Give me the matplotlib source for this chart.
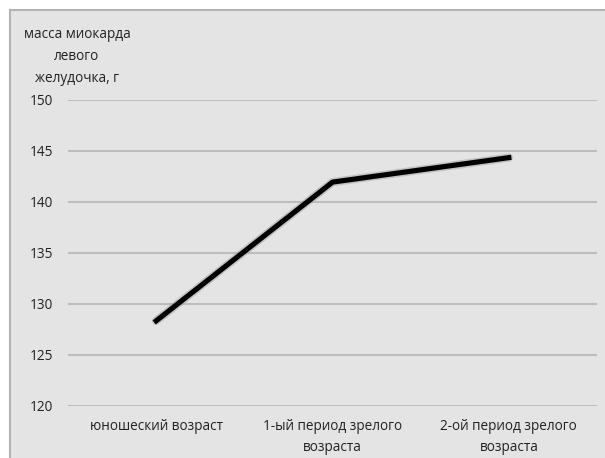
import matplotlib.pyplot as plt
from matplotlib.patches import Rectangle
from matplotlib.lines import Line2D

categories = ["юношеский возраст", "1-ый период зрелого\nвозраста", "2-ой период зрелого\nвозраста"]
mass = [128.3, 141.9, 144.3]
yticks = [120, 125, 130, 135, 140, 145, 150]
ylabel_lines = ["масса миокарда", "левого", "желудочка, г"]

plt.rcParams['font.family'] = ['Open Sans', 'DejaVu Sans']

W, H = 605, 458
fig = plt.figure(figsize=(W / 100, H / 100), dpi=100)
fig.patch.set_facecolor("white")

# grey chart area with a border on the left and top
fig.patches.append(Rectangle((10 / W, 0), 1, (H - 10) / H, transform=fig.transFigure,
                             facecolor="#e4e4e4", edgecolor="none", zorder=-5))
fig.lines.append(Line2D([10 / W, 10 / W], [0, (H - 10) / H], transform=fig.transFigure,
                        color="#b4b4b4", lw=1.5, zorder=-4))
fig.lines.append(Line2D([10 / W, 1], [(H - 10) / H, (H - 10) / H], transform=fig.transFigure,
                        color="#b4b4b4", lw=1.5, zorder=-4))

ax = fig.add_axes([68 / W, (H - 405.5) / H, (597 - 68) / W, (405.5 - 99.5) / H])
ax.set_facecolor("none")
ax.set_zorder(2)

x = list(range(len(categories)))
ax.plot(x, mass, color="#999999", lw=6, alpha=0.45, solid_capstyle="round", zorder=2)
ax.plot(x, mass, color="black", lw=3.7, solid_joinstyle="round", zorder=3)

ax.set_xlim(-0.5, len(categories) - 0.5)
ax.set_ylim(120, 150)
ax.set_yticks(yticks)
ax.set_xticks(x)
ax.set_xticklabels(categories, fontsize=9.8, color="#222222", linespacing=1.55)
ax.tick_params(axis="y", length=0, pad=11, labelsize=9.8, labelcolor="#222222")
ax.tick_params(axis="x", length=0, pad=10)
ax.yaxis.grid(True, color="#bdbdbd", lw=1.5)
ax.set_axisbelow(True)
for s in ax.spines.values():
    s.set_visible(False)

for i, line in enumerate(ylabel_lines):
    fig.text(77 / W, (H - 35 - i * 21.5) / H, line, ha="center", va="center",
             fontsize=9.8, color="#222222")

fig.savefig("out.png", dpi=100)
